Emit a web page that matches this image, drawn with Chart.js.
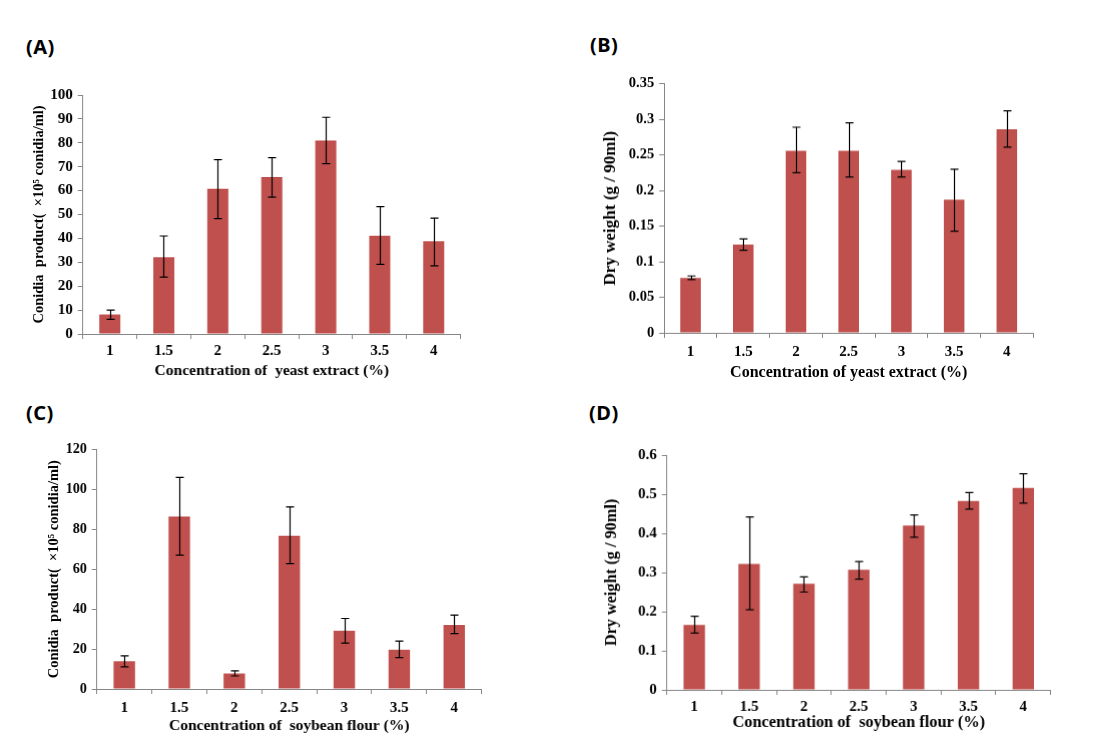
<!DOCTYPE html>
<html><head><meta charset="utf-8">
<script src="https://cdn.jsdelivr.net/npm/chart.js@4"></script>
<style>
html,body{margin:0;padding:0;background:#fff}
body{width:1119px;height:744px;position:relative;overflow:hidden}
.panel{position:absolute}
.lab{position:absolute;font-family:"Noto Sans",sans-serif;font-weight:bold;font-size:20px;line-height:20px;letter-spacing:0.5px;color:#000}
</style></head><body>
<div class="lab" style="left:26px;top:37px">(A)</div>
<div class="lab" style="left:590px;top:35px">(B)</div>
<div class="lab" style="left:26px;top:403px">(C)</div>
<div class="lab" style="left:589px;top:403px">(D)</div>
<div class="panel" id="pA"><canvas id="cA"></canvas></div>
<div class="panel" id="pB"><canvas id="cB"></canvas></div>
<div class="panel" id="pC"><canvas id="cC"></canvas></div>
<div class="panel" id="pD"><canvas id="cD"></canvas></div>
<script>
// ---- data ----
const categories = ['1','1.5','2','2.5','3','3.5','4'];

const conidiaYeast     = [8.2, 32.1, 60.8, 65.7, 81.0, 41.1, 38.8];
const conidiaYeastLow  = [6.1, 23.8, 48.3, 57.3, 71.3, 29.1, 28.5];
const conidiaYeastHigh = [10.0, 41.0, 73.0, 73.8, 90.7, 53.3, 48.5];

const dryYeast     = [0.077, 0.124, 0.256, 0.256, 0.229, 0.187, 0.286];
const dryYeastLow  = [0.075, 0.116, 0.225, 0.219, 0.219, 0.143, 0.261];
const dryYeastHigh = [0.080, 0.132, 0.289, 0.295, 0.241, 0.230, 0.312];

const conidiaSoy     = [13.9, 86.4, 7.8, 76.7, 29.2, 19.7, 32.0];
const conidiaSoyLow  = [11.1, 67.0, 6.5, 62.8, 23.0, 15.7, 27.7];
const conidiaSoyHigh = [16.6, 106.0, 9.1, 91.2, 35.3, 24.0, 37.0];

const drySoy     = [0.166, 0.322, 0.271, 0.307, 0.420, 0.483, 0.516];
const drySoyLow  = [0.145, 0.205, 0.250, 0.283, 0.390, 0.462, 0.477];
const drySoyHigh = [0.188, 0.442, 0.289, 0.328, 0.447, 0.504, 0.552];

const ticksA = [0,10,20,30,40,50,60,70,80,90,100];
const ticksB = [0,0.05,0.1,0.15,0.2,0.25,0.3,0.35];
const ticksC = [0,20,40,60,80,100,120];
const ticksD = [0,0.1,0.2,0.3,0.4,0.5,0.6];

const titleConidia = 'Conidia  product(  ×10⁵ conidia/ml)';
const titleDry = 'Dry weight (g / 90ml)';
const xTitleA = 'Concentration of  yeast extract (%)';
const xTitleB = 'Concentration of yeast extract (%)';
const xTitleSoy = 'Concentration of  soybean flour (%)';

// ---- drawing ----
const BAR = '#C0504D', AXIS = '#868686';
const SERIF = '"Liberation Serif","Times New Roman",serif';

function makeChart(id, pid, vals, low, high, ticks, yTitle, xTitle, g){
  const padTop = 12, padRight = 12;
  const halfLH = g.ySize * 1.2 / 2;
  const yw = g.x0 - (g.titleX - halfLH);
  const xh = g.titleGap + g.xSize * 1.2 / 2;
  const W = yw + (g.x1 - g.x0) + padRight;
  const H = padTop + (g.y1 - g.y0) + xh;
  const p = document.getElementById(pid);
  p.style.left = (g.x0 - yw) + 'px';
  p.style.top = (g.y0 - padTop) + 'px';
  p.style.width = W + 'px';
  p.style.height = H + 'px';
  const errorBars = {
    id: 'errorBars' + id,
    afterDatasetsDraw(chart){
      const ctx = chart.ctx, ys = chart.scales.y;
      const meta = chart.getDatasetMeta(0);
      ctx.save();
      ctx.strokeStyle = '#000';
      ctx.lineWidth = 1.2;
      meta.data.forEach((bar, i) => {
        const x = Math.round(bar.x) + 0.5;
        const yl = ys.getPixelForValue(low[i]);
        const yh = ys.getPixelForValue(high[i]);
        ctx.beginPath();
        ctx.moveTo(x, yl); ctx.lineTo(x, yh);
        ctx.moveTo(x - 4, yl); ctx.lineTo(x + 4, yl);
        ctx.moveTo(x - 4, yh); ctx.lineTo(x + 4, yh);
        ctx.stroke();
      });
      ctx.restore();
    }
  };
  return new Chart(document.getElementById(id), {
    type: 'bar',
    data: { labels: categories, datasets: [{ data: vals, backgroundColor: BAR, borderWidth: 0, barPercentage: 0.39, categoryPercentage: 1 }] },
    options: {
      responsive: true, maintainAspectRatio: false, animation: false,
      layout: { padding: { top: padTop, right: padRight, left: 0, bottom: 0 } },
      plugins: { legend: { display: false }, tooltip: { enabled: false } },
      scales: {
        x: {
          offset: true,
          grid: { offset: true, drawOnChartArea: false, drawTicks: true, tickLength: 5, color: AXIS },
          border: { color: AXIS, width: 1 },
          ticks: { color: '#000', padding: g.tickPad, font: { family: SERIF, size: g.xTickSize, weight: 'bold' }, maxRotation: 0 },
          title: { display: true, text: xTitle, color: '#000', padding: 0, font: { family: SERIF, size: g.xSize, weight: 'bold' } },
          afterFit(s){ s.height = xh; }
        },
        y: {
          min: 0, max: ticks[ticks.length - 1],
          afterBuildTicks(s){ s.ticks = ticks.map(v => ({ value: v })); },
          grid: { drawOnChartArea: false, drawTicks: true, tickLength: 5, color: AXIS },
          border: { color: AXIS, width: 1 },
          ticks: { color: '#000', padding: 5, font: { family: SERIF, size: g.yTickSize, weight: 'bold' }, callback: v => String(v) },
          title: { display: true, text: yTitle, color: '#000', padding: 0, font: { family: SERIF, size: g.ySize, weight: 'bold' } },
          afterFit(s){ s.width = yw; }
        }
      }
    },
    plugins: [errorBars]
  });
}

makeChart('cA','pA', conidiaYeast, conidiaYeastLow, conidiaYeastHigh, ticksA, titleConidia, xTitleA,
  { x0: 83, x1: 460, y0: 93, y1: 334, titleX: 40, tickPad: 3, titleGap: 37, xSize: 15.5, ySize: 14.5, xTickSize: 15, yTickSize: 15 });
makeChart('cB','pB', dryYeast, dryYeastLow, dryYeastHigh, ticksB, titleDry, xTitleB,
  { x0: 664, x1: 1033, y0: 82, y1: 332, titleX: 610, tickPad: 5, titleGap: 40, xSize: 16, ySize: 17, xTickSize: 15, yTickSize: 14.5 });
makeChart('cC','pC', conidiaSoy, conidiaSoyLow, conidiaSoyHigh, ticksC, titleConidia, xTitleSoy,
  { x0: 97, x1: 481, y0: 448, y1: 689, titleX: 55, tickPad: 5, titleGap: 37, xSize: 15.5, ySize: 14.5, xTickSize: 15, yTickSize: 14 });
makeChart('cD','pD', drySoy, drySoyLow, drySoyHigh, ticksD, titleDry, xTitleSoy,
  { x0: 667, x1: 1050, y0: 453, y1: 689, titleX: 612, tickPad: 3, titleGap: 33, xSize: 16.3, ySize: 16.2, xTickSize: 15, yTickSize: 15 });
</script>
</body></html>
